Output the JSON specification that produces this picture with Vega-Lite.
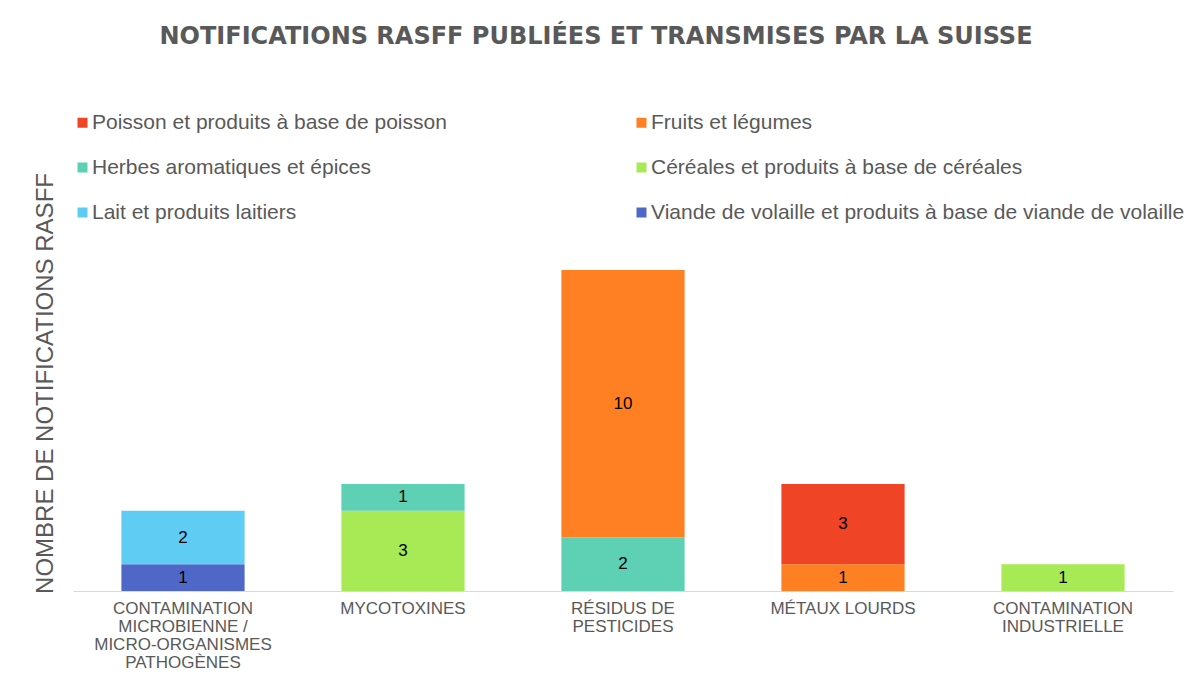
{
  "$schema": "https://vega.github.io/schema/vega-lite/v6.json",
  "autosize": "none",
  "width": 1100,
  "height": 321,
  "padding": {"left": 73, "top": 270, "right": 16, "bottom": 102},
  "background": "white",
  "config": {"view": {"stroke": null}},
  "title": {
    "text": "NOTIFICATIONS RASFF PUBLIÉES ET TRANSMISES PAR LA SUISSE",
    "font": "DejaVu Sans",
    "fontSize": 24,
    "fontWeight": "bold",
    "color": "#595959",
    "anchor": "middle",
    "frame": "group",
    "dx": -27,
    "offset": 63
  },
  "data": {
    "values": [
      {"cat": "CONTAMINATION MICROBIENNE / MICRO-ORGANISMES PATHOGÈNES", "grp": "Viande de volaille et produits à base de viande de volaille", "ord": 1, "n": 1},
      {"cat": "CONTAMINATION MICROBIENNE / MICRO-ORGANISMES PATHOGÈNES", "grp": "Lait et produits laitiers", "ord": 2, "n": 2},
      {"cat": "MYCOTOXINES", "grp": "Céréales et produits à base de céréales", "ord": 3, "n": 3},
      {"cat": "MYCOTOXINES", "grp": "Herbes aromatiques et épices", "ord": 4, "n": 1},
      {"cat": "RÉSIDUS DE PESTICIDES", "grp": "Herbes aromatiques et épices", "ord": 4, "n": 2},
      {"cat": "RÉSIDUS DE PESTICIDES", "grp": "Fruits et légumes", "ord": 5, "n": 10},
      {"cat": "MÉTAUX LOURDS", "grp": "Fruits et légumes", "ord": 5, "n": 1},
      {"cat": "MÉTAUX LOURDS", "grp": "Poisson et produits à base de poisson", "ord": 6, "n": 3},
      {"cat": "CONTAMINATION INDUSTRIELLE", "grp": "Céréales et produits à base de céréales", "ord": 3, "n": 1}
    ]
  },
  "transform": [
    {"stack": "n", "groupby": ["cat"], "sort": [{"field": "ord", "order": "ascending"}], "as": ["y0", "y1"]},
    {"calculate": "(datum.y0 + datum.y1) / 2", "as": "ymid"}
  ],
  "encoding": {
    "x": {
      "field": "cat",
      "type": "nominal",
      "sort": null,
      "scale": {"paddingInner": 0.44, "paddingOuter": 0.22},
      "axis": {
        "title": null,
        "labelAngle": 0,
        "labelFont": "Liberation Sans",
        "labelFontSize": 17,
        "labelColor": "#595959",
        "labelLineHeight": 18,
        "labelPadding": 9,
        "labelLimit": 300,
        "ticks": false,
        "domainColor": "#D9D9D9",
        "domainWidth": 1,
        "labelExpr": "datum.value == 'CONTAMINATION MICROBIENNE / MICRO-ORGANISMES PATHOGÈNES' ? ['CONTAMINATION', 'MICROBIENNE /', 'MICRO-ORGANISMES', 'PATHOGÈNES'] : datum.value == 'RÉSIDUS DE PESTICIDES' ? ['RÉSIDUS DE', 'PESTICIDES'] : datum.value == 'CONTAMINATION INDUSTRIELLE' ? ['CONTAMINATION', 'INDUSTRIELLE'] : datum.value"
      }
    }
  },
  "layer": [
    {
      "mark": {"type": "bar"},
      "encoding": {
        "y": {
          "field": "y0",
          "type": "quantitative",
          "scale": {"domain": [0, 12], "nice": false, "zero": true},
          "axis": {
            "title": "NOMBRE DE NOTIFICATIONS RASFF",
            "titleFont": "Liberation Sans",
            "titleFontSize": 24,
            "titleFontWeight": "normal",
            "titleColor": "#595959",
            "titleAngle": -90,
            "titleAlign": "center",
            "titleBaseline": "alphabetic",
            "titleX": -21,
            "titleY": 113,
            "labels": false,
            "ticks": false,
            "domain": false,
            "grid": false
          }
        },
        "y2": {"field": "y1"},
        "color": {
          "field": "grp",
          "type": "nominal",
          "scale": {
            "domain": [
              "Poisson et produits à base de poisson",
              "Fruits et légumes",
              "Herbes aromatiques et épices",
              "Céréales et produits à base de céréales",
              "Lait et produits laitiers",
              "Viande de volaille et produits à base de viande de volaille"
            ],
            "range": ["#EF4426", "#FE8023", "#5ED0B3", "#A8EA55", "#5FCCF3", "#4F67C7"]
          },
          "legend": {
            "title": null,
            "orient": "none",
            "legendX": -1,
            "legendY": -158,
            "padding": 0,
            "columns": 2,
            "direction": "horizontal",
            "columnPadding": 184,
            "rowPadding": 23,
            "symbolType": "square",
            "symbolSize": 100,
            "symbolStrokeWidth": 0,
            "labelOffset": -1,
            "labelFont": "Liberation Sans",
            "labelFontSize": 21,
            "labelColor": "#595959",
            "labelLimit": 700
          }
        }
      }
    },
    {
      "mark": {"type": "text", "font": "Liberation Sans", "fontSize": 17, "color": "black", "baseline": "middle"},
      "encoding": {
        "y": {"field": "ymid", "type": "quantitative"},
        "text": {"field": "n", "type": "quantitative"}
      }
    }
  ]
}
